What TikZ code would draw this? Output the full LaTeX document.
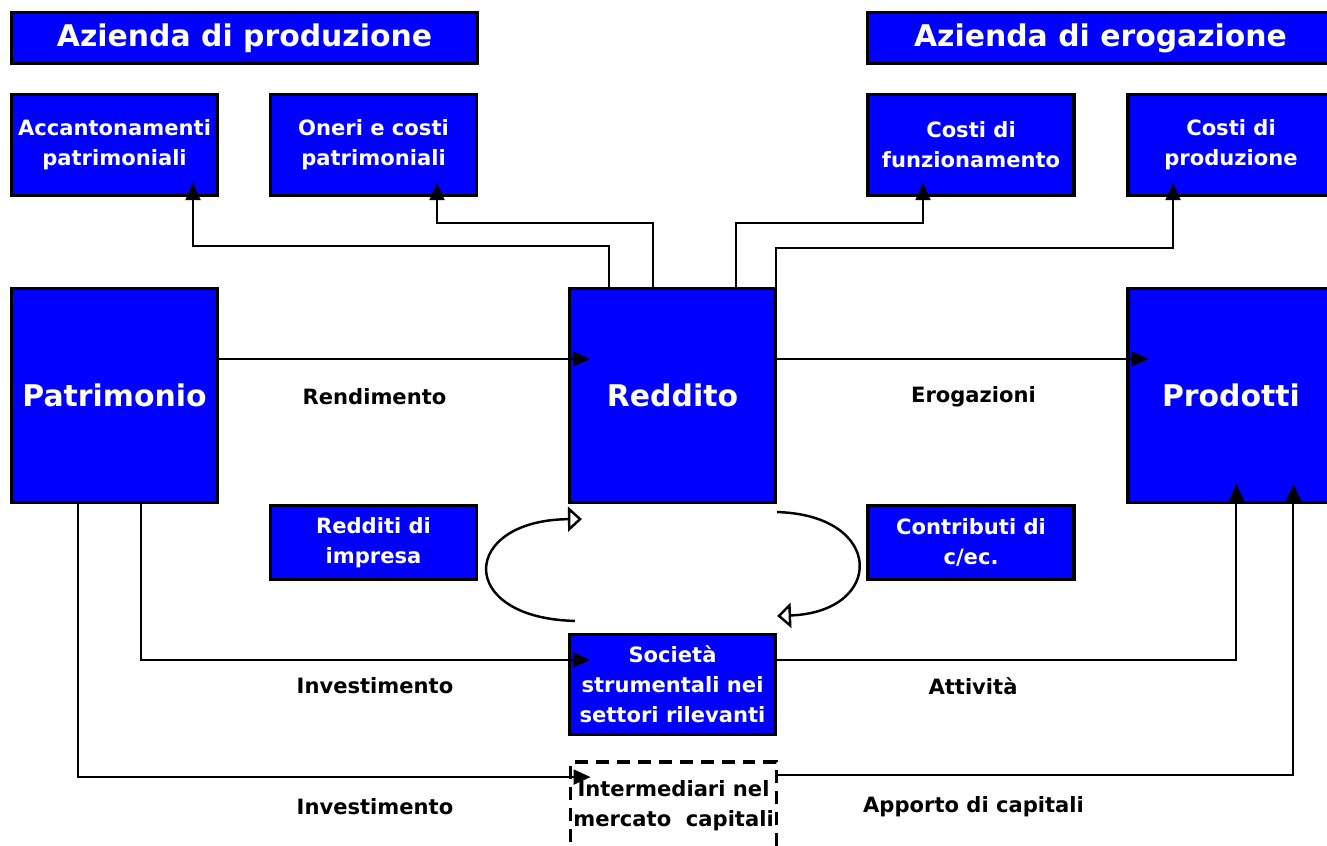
\documentclass[tikz,border=0pt]{standalone}
\usepackage{fontspec}
\setmainfont{DejaVu Sans}
\usetikzlibrary{arrows.meta,calc}
\tikzset{
semithick,
>={Triangle[length=0.34cm,width=0.3cm]},
box/.style={draw,fill=blue,text=white,line width=1.8pt,inner sep=0pt,align=center,minimum width=4.12cm,font=\bfseries\fontsize{12}{17}\selectfont},
headbox/.style={box,minimum width=9.32cm,minimum height=1.02cm,font=\bfseries\fontsize{17}{20}\selectfont},
bigbox/.style={box,minimum height=4.28cm,font=\bfseries\fontsize{17}{20}\selectfont},
upbox/.style={box,minimum height=2.02cm},
midbox/.style={box,minimum height=1.48cm},
dashbox/.style={box,fill=none,text=black,line width=2.2pt,minimum width=4.12cm,minimum height=1.76cm,dash pattern=on 0.26cm off 0.16cm},
lbl/.style={font=\bfseries\fontsize{12}{14}\selectfont},
conn/.style={->,line width=1.1pt},
loopy/.style={-{Triangle[open,length=0.28cm,width=0.5cm]},line width=1.4pt}
}

\begin{document}
\begin{tikzpicture}[x=0.02cm,y=-0.02cm]
\useasboundingbox (0,0) rectangle (1327,845);

% titoli
\node[headbox] (prod) at (244.5,38) {Azienda di produzione};
\node[headbox] (erog) at (1100.5,38) {Azienda di erogazione};

% riga superiore
\node[upbox] (accant) at (114.5,145) {Accantonamenti\\patrimoniali};
\node[upbox] (oneri) at (373.5,145) {Oneri e costi\\patrimoniali};
\node[upbox] (funz) at (971,145) {Costi di\\funzionamento};
\node[upbox] (cprod) at (1231,145) {Costi di\\produzione};

% riga centrale
\node[bigbox] (patr) at (114.5,395.5) {Patrimonio};
\node[bigbox] (reddito) at (672.5,395.5) {Reddito};
\node[bigbox] (prodotti) at (1231,395.5) {Prodotti};

\node[midbox] (impresa) at (373.5,542.5) {Redditi di\\impresa};
\node[midbox] (contrib) at (971,542.5) {Contributi di\\c/ec.};

\node[box,minimum height=2cm] (societa) at (672.5,684.5) {Società\\strumentali nei\\settori rilevanti};
\node[dashbox] (interm) at (673.5,806) {Intermediari nel\\mercato\ \ capitali};

% etichette
\node[lbl] (rend) at (374.5,397) {Rendimento};
\node[lbl] (eroga) at (973.5,397) {Erogazioni};
\node[lbl] (inv1) at (375,686) {Investimento};
\node[lbl] (att) at (973,686) {Attività};
\node[lbl] (inv2) at (375,807) {Investimento};
\node[lbl] (apporto) at (973.5,807) {Apporto di capitali};

% collegamenti verso l'alto
\draw[conn] ($(reddito.north west)+(41,0)$) -- ++(0,-41) -| ($(accant.south)+(78.5,-14)$);
\draw[conn] ($(reddito.north west)+(85,0)$) -- ++(0,-64) -| ($(oneri.south)+(63.5,-14)$);
\draw[conn] ($(reddito.north west)+(168,0)$) -- ++(0,-64) -| ($(funz.south)+(-48,-14)$);
\draw[conn] ($(reddito.north east)+(-1,0)$) -- ++(0,-39) -| ($(cprod.south)+(-58,-14)$);

% collegamenti orizzontali
\draw[conn] ($(patr.north east)+(0,72)$) -- ($(reddito.north west)+(22,72)$);
\draw[conn] ($(reddito.north east)+(0,72)$) -- ($(prodotti.north west)+(22,72)$);

% investimenti
\draw[conn] ($(patr.south west)+(131,0)$) |- ($(societa.north west)+(22,27)$);
\draw[conn] ($(patr.south west)+(68,0)$) |- ($(interm.north west)+(22,17)$);
\draw[conn] ($(societa.north east)+(0,27)$) -| ($(prodotti.south west)+(110,-20)$);
\draw[conn] ($(interm.north east)+(0,15)$) -| ($(prodotti.south west)+(167,-20)$);

% cicli
\draw[loopy] ($(societa.north west)+(7,-12)$) .. controls (455,618) and (460,520) .. ($(reddito.south west)+(14,15)$);
\draw[loopy] ($(reddito.south east)+(0,8)$) .. controls (885,515) and (885,612) .. ($(societa.north east)+(0,-17)$);
\end{tikzpicture}
\end{document}
